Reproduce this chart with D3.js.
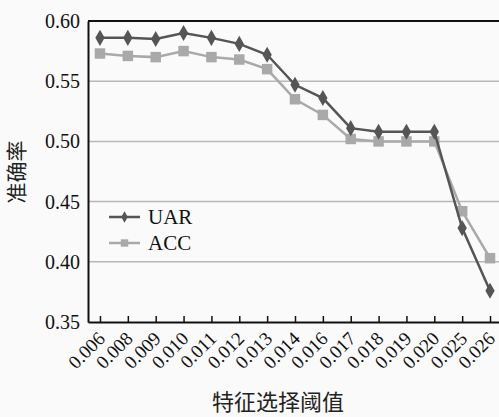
<!DOCTYPE html>
<html>
<head>
<meta charset="utf-8">
<script src="https://cdn.jsdelivr.net/npm/d3@7"></script>
<style>
  body { margin: 0; background: #fafafa; }
  svg { display: block; }
</style>
</head>
<body>
<div id="chart"></div>
<script>
// Feature selection thresholds (x categories)
const thresholds = ["0.006", "0.008", "0.009", "0.010", "0.011", "0.012", "0.013",
  "0.014", "0.016", "0.017", "0.018", "0.019", "0.020", "0.025", "0.026"];
// Series values
const uarValues = [0.586, 0.586, 0.585, 0.590, 0.586, 0.581, 0.572,
  0.547, 0.536, 0.511, 0.508, 0.508, 0.508, 0.428, 0.376];
const accValues = [0.573, 0.571, 0.570, 0.575, 0.570, 0.568, 0.560,
  0.535, 0.522, 0.502, 0.500, 0.500, 0.500, 0.442, 0.403];
const yTicks = [0.35, 0.40, 0.45, 0.50, 0.55, 0.60];

const serif = "'Liberation Serif', 'Times New Roman', serif";
const width = 499, height = 417;
const margin = { top: 21, right: -3, bottom: 95, left: 88 };

const svg = d3.select("#chart").append("svg")
  .attr("width", width)
  .attr("height", height);

const plotW = width - margin.left - margin.right;
const plotH = height - margin.top - margin.bottom;

const g = svg.append("g")
  .attr("transform", `translate(${margin.left},${margin.top})`);

// Category positions, ticks sit on the points
const x = d3.scalePoint()
  .domain(thresholds)
  .range([0, plotW])
  .padding(0.43);

const y = d3.scaleLinear()
  .domain([0.35, 0.60])
  .range([plotH, 0]);

// Horizontal grid lines
g.append("g")
  .selectAll("line")
  .data(yTicks.filter(v => v > 0.35 && v < 0.60))
  .join("line")
  .attr("x1", 0)
  .attr("x2", plotW)
  .attr("y1", d => y(d))
  .attr("y2", d => y(d))
  .attr("stroke", "#b8b8b8")
  .attr("stroke-width", 1.5);

// Top frame line
g.append("line")
  .attr("x1", 0).attr("x2", plotW)
  .attr("y1", y(0.60)).attr("y2", y(0.60))
  .attr("stroke", "#111").attr("stroke-width", 2);

// Y axis
const yAxis = g.append("g")
  .call(d3.axisLeft(y).tickValues(yTicks).tickFormat(d3.format(".2f")).tickSize(0).tickPadding(8));
yAxis.select(".domain").attr("stroke", "#111").attr("stroke-width", 2);
yAxis.selectAll("text")
  .style("font-family", serif)
  .style("font-size", "20px")
  .attr("fill", "#111");

// X axis with inward ticks
const xAxis = g.append("g")
  .attr("transform", `translate(0,${plotH})`)
  .call(d3.axisBottom(x).tickSize(-6).tickSizeOuter(0));
xAxis.select(".domain").attr("stroke", "#111").attr("stroke-width", 2);
xAxis.selectAll(".tick line").attr("stroke", "#111").attr("stroke-width", 1.5);
xAxis.selectAll("text")
  .style("font-family", serif)
  .style("font-size", "19px")
  .attr("fill", "#111")
  .attr("text-anchor", "end")
  .attr("x", 0)
  .attr("y", 0)
  .attr("dy", "0.35em")
  .attr("transform", "translate(1,13) rotate(-45)");

// Lines
const line = d3.line()
  .x((d, i) => x(thresholds[i]))
  .y(d => y(d));

const series = [
  { name: "ACC", values: accValues, color: "#a9a9a9", symbol: d3.symbolSquare, size: 110 },
  { name: "UAR", values: uarValues, color: "#555555", symbol: d3.symbolDiamond, size: 75 }
];

series.forEach(s => {
  g.append("path")
    .datum(s.values)
    .attr("fill", "none")
    .attr("stroke", s.color)
    .attr("stroke-width", 2.5)
    .attr("d", line);
  g.append("g")
    .selectAll("path")
    .data(s.values)
    .join("path")
    .attr("transform", (d, i) => `translate(${x(thresholds[i])},${y(d)})`)
    .attr("d", d3.symbol().type(s.symbol).size(s.size))
    .attr("fill", s.color);
});

// Legend
const legendItems = [series[1], series[0]];
const legend = g.append("g").attr("transform", "translate(21,196)");
legendItems.forEach((s, i) => {
  const row = legend.append("g").attr("transform", `translate(0,${i * 26})`);
  row.append("line")
    .attr("x1", 0).attr("x2", 31)
    .attr("stroke", s.color).attr("stroke-width", 2.5);
  row.append("path")
    .attr("transform", "translate(15.5,0)")
    .attr("d", d3.symbol().type(s.symbol).size(s.size * 0.5))
    .attr("fill", s.color);
  row.append("text")
    .attr("x", 39)
    .attr("dy", "0.35em")
    .style("font-family", serif)
    .style("font-size", "21px")
    .attr("fill", "#111")
    .text(s.name);
});

// Axis titles
svg.append("text")
  .attr("transform", "translate(24,172) rotate(-90)")
  .attr("text-anchor", "middle")
  .style("font-family", "'Noto Sans CJK SC', sans-serif")
  .style("font-size", "21px")
  .attr("fill", "#222")
  .text("准确率");

svg.append("text")
  .attr("x", 278)
  .attr("y", 410)
  .attr("text-anchor", "middle")
  .style("font-family", "'Noto Sans CJK SC', sans-serif")
  .style("font-size", "22px")
  .attr("fill", "#222")
  .text("特征选择阈值");
</script>
</body>
</html>
